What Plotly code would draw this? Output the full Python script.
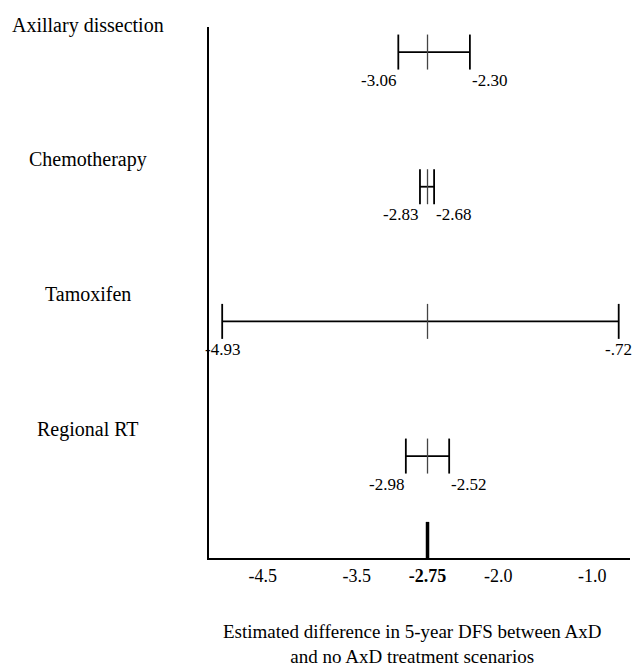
import plotly.graph_objects as go

# ---- data ----
categories = ["Axillary dissection", "Chemotherapy", "Tamoxifen", "Regional RT"]
low_values = [-3.06, -2.83, -4.93, -2.98]
high_values = [-2.30, -2.68, -0.72, -2.52]
low_labels = ["-3.06", "-2.83", "-4.93", "-2.98"]
high_labels = ["-2.30", "-2.68", "-.72", "-2.52"]
baseline_value = -2.75
tick_values = [-4.5, -3.5, -2.75, -2.0, -1.0]
tick_labels = ["-4.5", "-3.5", "<b>-2.75</b>", "-2.0", "-1.0"]
x_title = "Estimated difference in 5-year DFS between AxD<br>and no AxD treatment scenarios"

# ---- style ----
FONT = "Liberation Serif, Times New Roman, serif"
low_anchor = ["right", "right", "center", "right"]
high_anchor = ["left", "left", "center", "left"]

fig = go.Figure()

for i, cat in enumerate(categories):
    lo, hi = low_values[i], high_values[i]
    fig.add_trace(go.Scatter(
        x=[lo, hi], y=[i, i], mode="lines+markers",
        line=dict(color="black", width=1.8),
        marker=dict(symbol="line-ns", size=25, line=dict(color="black", width=1.8)),
        hoverinfo="skip", showlegend=False,
    ))
    fig.add_annotation(x=lo, y=i, xref="x", yref="y", text=low_labels[i],
                       showarrow=False, xanchor=low_anchor[i], yanchor="middle",
                       yshift=-28, font=dict(family=FONT, size=17, color="black"))
    fig.add_annotation(x=hi, y=i, xref="x", yref="y", text=high_labels[i],
                       showarrow=False, xanchor=high_anchor[i], yanchor="middle",
                       yshift=-28, font=dict(family=FONT, size=17, color="black"))
    fig.add_annotation(x=-0.287, y=i, xref="paper", yref="y", text=cat,
                       showarrow=False, xanchor="center", yanchor="middle",
                       yshift=27, font=dict(family=FONT, size=20, color="black"))

# baseline tick on every bar
fig.add_trace(go.Scatter(
    x=[baseline_value] * len(categories), y=list(range(len(categories))),
    mode="markers",
    marker=dict(symbol="line-ns", size=25, line=dict(color="#444444", width=1.3)),
    hoverinfo="skip", showlegend=False,
))

# bold baseline marker at the axis
fig.add_shape(type="line", xref="x", yref="paper",
              x0=baseline_value, x1=baseline_value, y0=0, y1=0.068,
              line=dict(color="black", width=3.5))

# axis title
fig.add_annotation(x=0.482, y=-0.1149, xref="paper", yref="paper", text=x_title,
                   showarrow=False, xanchor="center", yanchor="top",
                   font=dict(family=FONT, size=19, color="black"))

fig.update_layout(
    width=633, height=671,
    margin=dict(l=209, r=3, t=27, b=113),
    paper_bgcolor="white", plot_bgcolor="white",
    font=dict(family=FONT, size=17, color="black"),
    xaxis=dict(range=[-5.07, -0.60], showline=True, linecolor="black", linewidth=2,
               showgrid=False, zeroline=False, ticks="",
               tickvals=tick_values, ticktext=tick_labels,
               tickfont=dict(family=FONT, size=18, color="black")),
    yaxis=dict(range=[3.757, -0.186], showline=True, linecolor="black", linewidth=2,
               showgrid=False, zeroline=False, ticks="", showticklabels=False),
)

fig.write_html("out.html")
